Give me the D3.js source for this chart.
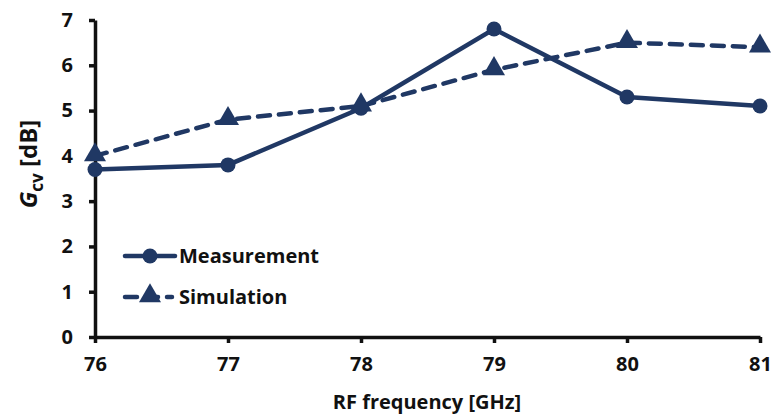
<!DOCTYPE html>
<html>
<head>
<meta charset="utf-8">
<script src="https://cdn.jsdelivr.net/npm/d3@7"></script>
<style>
  body { margin: 0; background: #fff; }
  text { font-family: "Open Sans", "Liberation Sans", sans-serif; font-weight: bold; fill: #111; }
</style>
</head>
<body>
<div id="chart"></div>
<script>
// Data
const freqs = [76, 77, 78, 79, 80, 81];
const measurement = [3.7, 3.8, 5.05, 6.8, 5.3, 5.1];
const simulation = [4.0, 4.8, 5.1, 5.9, 6.5, 6.4];
const yTicks = [0, 1, 2, 3, 4, 5, 6, 7];

const W = 774, H = 416;
const margin = { top: 20, right: 14, bottom: 79, left: 95 };
const width = W - margin.left - margin.right;
const height = H - margin.top - margin.bottom;
const navy = "#203864";

const svg = d3.select("#chart").append("svg")
  .attr("width", W).attr("height", H);
const g = svg.append("g").attr("transform", `translate(${margin.left},${margin.top})`);

const x = d3.scaleLinear().domain([76, 81]).range([0, width]);
const y = d3.scaleLinear().domain([0, 7]).range([height, 0]);

// Axes
const xAxis = g.append("g").attr("transform", `translate(0,${height})`)
  .call(d3.axisBottom(x).tickValues(freqs).tickFormat(d3.format("d")).tickSize(6).tickSizeOuter(0));
const yAxis = g.append("g")
  .call(d3.axisLeft(y).tickValues(yTicks).tickFormat(d3.format("d")).tickSize(6).tickSizeOuter(0));
[xAxis, yAxis].forEach(a => {
  a.select(".domain").attr("stroke", "#111").attr("stroke-width", 3.5);
  a.selectAll(".tick line").attr("stroke", "#111").attr("stroke-width", 3.5);
  a.selectAll(".tick text").style("font-size", "20px").attr("fill", "#111");
});
xAxis.selectAll(".tick text").attr("dy", "1.25em");
yAxis.selectAll(".tick text").attr("x", -22);

// Axis titles
svg.append("text").attr("x", 427).attr("y", 409)
  .attr("text-anchor", "middle").style("font-size", "20px").text("RF frequency [GHz]");
const yt = svg.append("text")
  .attr("transform", "translate(37,164) rotate(-90)")
  .attr("text-anchor", "middle").style("font-size", "24px");
yt.append("tspan").style("font-style", "italic").text("G");
yt.append("tspan").attr("dy", 6).style("font-size", "17px").text("cv");
yt.append("tspan").attr("dy", -6).text(" [dB]");

// Lines
const line = d3.line().x((d, i) => x(freqs[i])).y(d => y(d));
g.append("path").datum(simulation).attr("d", line)
  .attr("fill", "none").attr("stroke", navy).attr("stroke-width", 4.5)
  .attr("stroke-dasharray", "12,9").attr("stroke-linecap", "round");
g.append("path").datum(measurement).attr("d", line)
  .attr("fill", "none").attr("stroke", navy).attr("stroke-width", 4.5);

const tri = d3.symbol().type(d3.symbolTriangle).size(210);
g.selectAll(".sim").data(simulation).join("path").attr("class", "sim")
  .attr("d", tri).attr("fill", navy)
  .attr("transform", (d, i) => `translate(${x(freqs[i])},${y(d) - 1})`);
g.selectAll(".meas").data(measurement).join("circle").attr("class", "meas")
  .attr("cx", (d, i) => x(freqs[i])).attr("cy", d => y(d)).attr("r", 7.5).attr("fill", navy);

// Legend
const legend = svg.append("g");
const lm = legend.append("g").attr("transform", "translate(125,256)");
lm.append("line").attr("x1", 0).attr("x2", 50).attr("stroke", navy).attr("stroke-width", 4.5).attr("stroke-linecap", "round");
lm.append("circle").attr("cx", 25).attr("r", 7.5).attr("fill", navy);
lm.append("text").attr("x", 54).attr("y", 7).style("font-size", "20px").text("Measurement");
const ls = legend.append("g").attr("transform", "translate(125,297)");
ls.append("line").attr("x1", 0).attr("x2", 47).attr("stroke", navy).attr("stroke-width", 4.5)
  .attr("stroke-dasharray", "12,9").attr("stroke-linecap", "round");
ls.append("path").attr("d", tri).attr("fill", navy).attr("transform", "translate(25,-1)");
ls.append("text").attr("x", 54).attr("y", 7).style("font-size", "20px").text("Simulation");
</script>
</body>
</html>
